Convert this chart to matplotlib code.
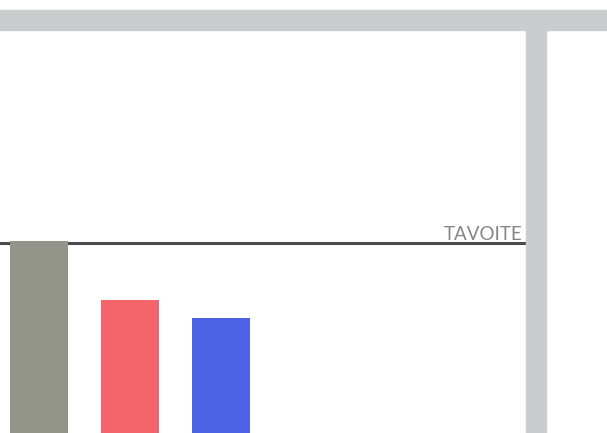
import matplotlib
matplotlib.use("Agg")
import matplotlib.pyplot as plt
from matplotlib.patches import Rectangle

# data
categories = ["A", "B", "C"]
values = [47.6, 33.0, 28.5]
target = 47.1
target_label = "TAVOITE"
bar_colors = ["#93958a", "#f3656a", "#4c63e6"]

W, H = 607, 433
fig = plt.figure(figsize=(W / 100, H / 100), dpi=100)

# decorative frame pieces (top band and right column)
fig.patches.append(Rectangle((0, (H - 30) / H), 1, 20 / H, transform=fig.transFigure,
                             color="#cbcccd", zorder=0))
fig.patches.append(Rectangle((526 / W, 0), 20 / W, (H - 30) / H, transform=fig.transFigure,
                             color="#cbcccd", zorder=0))

ax = fig.add_axes([0, 0, 526 / W, (H - 30) / H])
ax.patch.set_alpha(0)
x = list(range(len(categories)))
ax.bar(x, values, width=58 / 91, color=bar_colors, zorder=3)
ax.axhline(target, color="#4a4a4a", lw=2.2, zorder=2)
ax.text(522 / 526, target + 0.15, target_label, transform=ax.get_yaxis_transform(),
        ha="right", va="bottom", fontsize=13.5, color="#868686",
        family="Lato", fontweight="normal")
ax.set_xlim(-39 / 91, (526 - 39) / 91)
ax.set_ylim(0, 100)
ax.axis("off")

fig.savefig("out.png", dpi=100)
